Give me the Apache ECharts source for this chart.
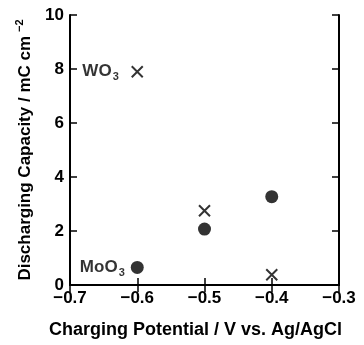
<!DOCTYPE html>
<html>
<head>
<meta charset="utf-8">
<script src="https://cdn.jsdelivr.net/npm/echarts@6/dist/echarts.min.js"></script>
<style>
  html, body { margin: 0; padding: 0; background: #fff; }
  #chart { width: 364px; height: 345px; }
</style>
</head>
<body>
<div id="chart"></div>
<script>
// charging potential (V vs. Ag/AgCl)
const potentials = [-0.6, -0.5, -0.4];
// discharging capacity (mC cm^-2)
const wo3Capacity = [7.9, 2.75, 0.38];
const moo3Capacity = [0.65, 2.07, 3.27];
const seriesLabels = ["WO", "MoO"];

const font = "Liberation Sans";
const toPairs = (ys) => potentials.map((x, i) => [x, ys[i]]);
const fmtMinus = (v) => (v < 0 ? "\u2212" : "") + Math.abs(v).toFixed(1);

const subRich = {
  a: { fontFamily: font, fontSize: 17, fontWeight: "bold", color: "#000" },
  sub: { fontFamily: font, fontSize: 11, fontWeight: "bold", color: "#000", padding: [11, 0, 0, 1] },
};

const chart = echarts.init(document.getElementById("chart"));

const frameAxis = {
  axisLine: { show: true, lineStyle: { color: "#000", width: 2 } },
  axisTick: { show: true, inside: true, length: 7, lineStyle: { color: "#000", width: 1.5 } },
  splitLine: { show: false },
};

chart.setOption({
  animation: false,
  grid: { left: 70, right: 25, top: 15, bottom: 60 },
  xAxis: [
    {
      type: "value", min: -0.7, max: -0.3, interval: 0.1,
      ...frameAxis,
      axisLabel: { formatter: fmtMinus, fontFamily: font, fontSize: 17, fontWeight: "bold", color: "#000", margin: 5 },
      name: "Charging Potential / V vs. Ag/AgCl",
      nameLocation: "middle", nameGap: 36,
      nameTextStyle: { fontFamily: font, fontSize: 18, fontWeight: "bold", color: "#000", padding: [0, 18, 0, 0] },
    },
    {
      type: "value", position: "top", min: -0.7, max: -0.3, interval: 0.1,
      ...frameAxis, axisLabel: { show: false },
    },
  ],
  yAxis: [
    {
      type: "value", min: 0, max: 10, interval: 2,
      ...frameAxis,
      axisLabel: { fontFamily: font, fontSize: 17, fontWeight: "bold", color: "#000", margin: 6 },
      name: "{a|Discharging Capacity / mC cm}{sup|\u22122}",
      nameLocation: "middle", nameGap: 31, nameRotate: 90,
      nameTextStyle: {
        rich: {
          a: { fontFamily: font, fontSize: 17, fontWeight: "bold", color: "#000" },
          sup: { fontFamily: font, fontSize: 11, fontWeight: "bold", color: "#000", padding: [0, 0, 12, 4] },
        },
      },
    },
    {
      type: "value", position: "right", min: 0, max: 10, interval: 2,
      ...frameAxis, axisLabel: { show: false },
    },
  ],
  series: [
    {
      name: "WO3", type: "scatter",
      data: toPairs(wo3Capacity).map((p, i) => i === 0
        ? { value: p, label: { show: true, position: "left", distance: 12, formatter: "{a|" + seriesLabels[0] + "}{sub|3}", rich: subRich } }
        : p),
      symbol: "path://M0,0L10,10M10,0L0,10",
      symbolSize: 11,
      itemStyle: { color: "transparent", borderColor: "#000", borderWidth: 2 },
    },
    {
      name: "MoO3", type: "scatter",
      data: toPairs(moo3Capacity).map((p, i) => i === 0
        ? { value: p, label: { show: true, position: "left", distance: 6, formatter: "{a|" + seriesLabels[1] + "}{sub|3}", rich: subRich } }
        : p),
      symbol: "circle",
      symbolSize: 13,
      itemStyle: { color: "#000" },
    },
  ],
});
</script>
</body>
</html>
